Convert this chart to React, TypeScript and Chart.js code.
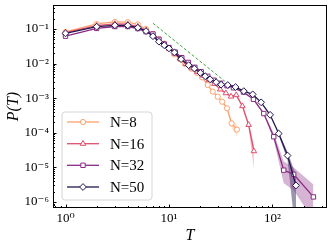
import React, { useEffect, useRef } from 'react';
import { Chart, registerables } from 'chart.js';

Chart.register(...registerables);

// ---- data ----
const SERIES_LABELS = ['N=8', 'N=16', 'N=32', 'N=50'];

const T8 = [1, 2, 3, 4, 5, 6, 7, 8, 9, 10, 11.3, 12.7, 14.3, 16.5, 18.7, 20.9, 23.7, 26.5, 29.6, 32.7, 36.4, 40.3, 45.4];
const P8 = [0.082, 0.14, 0.16, 0.158, 0.135, 0.1, 0.072, 0.052, 0.038, 0.028, 0.0185, 0.0135, 0.0098, 0.0071, 0.0054, 0.004, 0.0024, 0.00155, 0.0011, 0.00079, 0.00051, 0.000187, 0.000124];

const T16 = [1, 2, 3, 4, 5, 6, 7, 8, 9, 10, 11.35, 12.9, 14.6, 16.6, 18.8, 21.4, 24.3, 27.5, 31.3, 35.5, 39.8, 44.7, 51.3, 58.9, 66.2];
const P16 = [0.078, 0.125, 0.14, 0.138, 0.118, 0.09, 0.066, 0.047, 0.035, 0.027, 0.0195, 0.0138, 0.0098, 0.0074, 0.0057, 0.0045, 0.0034, 0.0026, 0.0018, 0.0014, 0.00112, 0.00123, 0.00059, 0.00017, 2.95e-5];

const T32 = [1, 2, 3, 4, 5, 6, 7, 8, 9, 10, 11.5, 13.3, 15.4, 17.8, 20.5, 23.7, 27.3, 31.5, 36.4, 42, 52.5, 65.6, 82.5, 103, 128.6, 160.5, 249];
const P32 = [0.062, 0.104, 0.118, 0.118, 0.103, 0.084, 0.072, 0.05, 0.037, 0.029, 0.0215, 0.0148, 0.0108, 0.0078, 0.0058, 0.0043, 0.0033, 0.0027, 0.0023, 0.002, 0.0015, 0.00093, 0.00036, 7.7e-5, 8.3e-6, 6.3e-6, 1.4e-6];

const T50 = [1, 2, 3, 4, 5, 6, 7, 8, 9, 10, 11.3, 13.1, 15.5, 17.6, 20.1, 22.4, 25, 28.6, 31.9, 37, 44, 52.9, 64.5, 77.8, 95, 115, 140, 169];
const P50 = [0.075, 0.117, 0.128, 0.127, 0.109, 0.087, 0.062, 0.043, 0.034, 0.0275, 0.021, 0.0134, 0.009, 0.0072, 0.0054, 0.0043, 0.0035, 0.0029, 0.00246, 0.0024, 0.0021, 0.0016, 0.00129, 0.00076, 0.00033, 9.5e-5, 2.2e-5, 3.0e-6];

// error bands (tails)
const BAND8_T = [36.4, 40.3, 45.4];
const BAND8_HI = [5.6e-4, 2.4e-4, 1.7e-4];
const BAND8_LO = [4.6e-4, 1.45e-4, 8e-5];
const BAND16_T = [51.3, 58.9, 66.2];
const BAND16_HI = [6.4e-4, 2.0e-4, 4.5e-5];
const BAND16_LO = [5.4e-4, 1.4e-4, 9e-6];
const BAND32_T = [82.5, 103, 128.6, 160.5, 249];
const BAND32_HI = [3.9e-4, 9.5e-5, 1.5e-5, 1.0e-5, 3.2e-6];
const BAND32_LO = [3.3e-4, 6.2e-5, 3.5e-6, 2.2e-6, 3e-7];
const BAND50_T = [115, 140, 169];
const BAND50_HI = [1.05e-4, 2.8e-5, 6e-6];
const BAND50_LO = [8.5e-5, 1.6e-5, 1e-7];

// power-law guide
const GUIDE_T = [7, 34.6];
const GUIDE_P = [0.147, 0.0031];

const X_TICKS = [1, 10, 100];
const Y_TICKS = [1e-6, 1e-5, 1e-4, 1e-3, 1e-2, 1e-1];

const COLORS = ['#fca36f', '#e04d6b', '#8a2a83', '#221650'];
const BAND_COLORS = ['rgba(252,163,111,0.35)', 'rgba(224,77,107,0.35)', 'rgba(138,42,131,0.35)', 'rgba(34,22,80,0.45)'];
const STYLES = ['circle', 'triangle', 'rect', 'rectRot'];
const RADII = [2.6, 3.2, 3.1, 3.4];

const SERIF = "'Liberation Serif', 'DejaVu Serif', serif";

const SUP: Record<string, string> = { '-': '\u207B', '0': '\u2070', '1': '\u00B9', '2': '\u00B2', '3': '\u00B3', '4': '\u2074', '5': '\u2075', '6': '\u2076', '7': '\u2077', '8': '\u2078', '9': '\u2079' };
const pow10Label = (v: number) => {
  const e = String(Math.round(Math.log10(v)));
  return '10' + e.split('').map((c) => SUP[c]).join('');
};

const zip = (xs: number[], ys: number[]) => xs.map((x, i) => ({ x, y: ys[i] }));

function drawMarker(ctx: CanvasRenderingContext2D, style: string, x: number, y: number, r: number) {
  ctx.beginPath();
  if (style === 'circle') {
    ctx.arc(x, y, r, 0, Math.PI * 2);
  } else if (style === 'triangle') {
    let a = 0;
    ctx.moveTo(x + Math.sin(a) * r, y - Math.cos(a) * r);
    a += (2 * Math.PI) / 3;
    ctx.lineTo(x + Math.sin(a) * r, y - Math.cos(a) * r);
    a += (2 * Math.PI) / 3;
    ctx.lineTo(x + Math.sin(a) * r, y - Math.cos(a) * r);
    ctx.closePath();
  } else if (style === 'rect') {
    const s = Math.SQRT1_2 * r;
    ctx.rect(x - s, y - s, 2 * s, 2 * s);
  } else {
    ctx.moveTo(x, y - r);
    ctx.lineTo(x + r, y);
    ctx.lineTo(x, y + r);
    ctx.lineTo(x - r, y);
    ctx.closePath();
  }
  ctx.fillStyle = '#ffffff';
  ctx.fill();
  ctx.stroke();
}

const framePlugin = {
  id: 'frameTicks',
  afterDraw(chart: any) {
    const { ctx, chartArea: a, scales } = chart;
    ctx.save();
    ctx.strokeStyle = '#000';
    ctx.lineWidth = 1;
    ctx.strokeRect(Math.round(a.left) + 0.5, Math.round(a.top) + 0.5, Math.round(a.right - a.left) - 1, Math.round(a.bottom - a.top) - 1);
    const xs = scales.x;
    const ys = scales.y;
    ctx.beginPath();
    for (let d = -1; d <= 3; d++) {
      for (let m = 1; m <= 9; m++) {
        const v = m * Math.pow(10, d);
        if (v < xs.min || v > xs.max) continue;
        const px = Math.round(xs.getPixelForValue(v)) + 0.5;
        const len = m === 1 ? 3.5 : 2;
        ctx.moveTo(px, a.bottom);
        ctx.lineTo(px, a.bottom - len);
      }
    }
    for (let d = -7; d <= 0; d++) {
      for (let m = 1; m <= 9; m++) {
        const v = m * Math.pow(10, d);
        if (v < ys.min || v > ys.max) continue;
        const py = Math.round(ys.getPixelForValue(v)) + 0.5;
        const len = m === 1 ? 3.5 : 2;
        ctx.moveTo(a.left, py);
        ctx.lineTo(a.left + len, py);
      }
    }
    ctx.stroke();

    // legend
    const bx = 62, by = 112, bw = 90, bh = 88, r = 3;
    ctx.beginPath();
    ctx.moveTo(bx + r, by);
    ctx.arcTo(bx + bw, by, bx + bw, by + bh, r);
    ctx.arcTo(bx + bw, by + bh, bx, by + bh, r);
    ctx.arcTo(bx, by + bh, bx, by, r);
    ctx.arcTo(bx, by, bx + bw, by, r);
    ctx.closePath();
    ctx.fillStyle = 'rgba(255,255,255,0.8)';
    ctx.fill();
    ctx.strokeStyle = '#d6d6d6';
    ctx.lineWidth = 1;
    ctx.stroke();
    const rows = [122, 143.7, 165.3, 187];
    SERIES_LABELS.forEach((lab, i) => {
      const y = rows[i];
      ctx.strokeStyle = COLORS[i];
      ctx.lineWidth = 1.3;
      ctx.beginPath();
      ctx.moveTo(67, y);
      ctx.lineTo(99, y);
      ctx.stroke();
      ctx.lineWidth = 1;
      drawMarker(ctx, STYLES[i], 83, y, RADII[i]);
      ctx.fillStyle = '#000';
      ctx.font = `15px ${SERIF}`;
      ctx.textAlign = 'left';
      ctx.textBaseline = 'middle';
      ctx.fillText(lab, 110, y + 1);
    });
    ctx.restore();
  },
};

export default function App() {
  const ref = useRef<HTMLCanvasElement | null>(null);
  useEffect(() => {
    if (!ref.current) return;
    const seriesT = [T8, T16, T32, T50];
    const seriesP = [P8, P16, P32, P50];
    const bands = [
      [BAND8_T, BAND8_HI, BAND8_LO],
      [BAND16_T, BAND16_HI, BAND16_LO],
      [BAND32_T, BAND32_HI, BAND32_LO],
      [BAND50_T, BAND50_HI, BAND50_LO],
    ];
    const datasets: any[] = [];
    bands.forEach((b, i) => {
      datasets.push({
        label: SERIES_LABELS[i] + ' band hi',
        data: zip(b[0], b[1]),
        borderWidth: 0,
        pointRadius: 0,
        backgroundColor: BAND_COLORS[i],
        fill: '+1',
        order: 20,
      });
      datasets.push({
        label: SERIES_LABELS[i] + ' band lo',
        data: zip(b[0], b[2]),
        borderWidth: 0,
        pointRadius: 0,
        fill: false,
        order: 20,
      });
    });
    datasets.push({
      label: 'guide',
      data: zip(GUIDE_T, GUIDE_P),
      borderColor: '#3aa63a',
      borderWidth: 1,
      borderDash: [3, 2],
      pointRadius: 0,
      fill: false,
      order: 10,
    });
    SERIES_LABELS.forEach((lab, i) => {
      datasets.push({
        label: lab,
        data: zip(seriesT[i], seriesP[i]),
        borderColor: COLORS[i],
        borderWidth: 1.3,
        pointStyle: STYLES[i],
        pointRadius: RADII[i],
        pointBorderWidth: 1,
        pointBorderColor: COLORS[i],
        pointBackgroundColor: '#ffffff',
        fill: false,
        order: 3 - i,
      });
    });

    const chart = new Chart(ref.current, {
      type: 'line',
      data: { datasets },
      options: {
        animation: false,
        responsive: false,
        devicePixelRatio: 1,
        layout: { padding: { top: 5, right: 5, left: 0, bottom: 0 } },
        plugins: { legend: { display: false }, tooltip: { enabled: false } },
        scales: {
          x: {
            type: 'logarithmic',
            min: 0.757,
            max: 337,
            grid: { display: false, drawTicks: false },
            border: { display: false },
            ticks: {
              autoSkip: false,
              maxRotation: 0,
              padding: 3,
              color: '#000',
              font: { family: SERIF, size: 13 },
              callback: (v: any) => pow10Label(Number(v)),
            },
            afterBuildTicks: (s: any) => {
              s.ticks = X_TICKS.map((v) => ({ value: v }));
            },
            afterFit: (s: any) => {
              s.height = 40;
              s.paddingLeft = 0;
              s.paddingRight = 0;
            },
            title: {
              display: true,
              text: 'T',
              color: '#000',
              font: { family: SERIF, size: 16, style: 'italic' },
              padding: { top: 0, bottom: 3 },
            },
          },
          y: {
            type: 'logarithmic',
            min: 6.7e-7,
            max: 0.494,
            grid: { display: false, drawTicks: false },
            border: { display: false },
            ticks: {
              autoSkip: false,
              padding: 4,
              color: '#000',
              font: { family: SERIF, size: 13 },
              callback: (v: any) => pow10Label(Number(v)),
            },
            afterBuildTicks: (s: any) => {
              s.ticks = Y_TICKS.map((v) => ({ value: v }));
            },
            afterFit: (s: any) => {
              s.width = 53;
              s.paddingTop = 0;
              s.paddingBottom = 0;
            },
            title: {
              display: true,
              text: 'P(T)',
              color: '#000',
              font: { family: SERIF, size: 16, style: 'italic' },
              padding: { top: 4, bottom: 0 },
            },
          },
        },
      },
      plugins: [framePlugin],
    });
    return () => chart.destroy();
  }, []);

  return (
    <div style={{ position: 'fixed', left: 0, top: 0, width: 332, height: 248, background: '#fff' }}>
      <canvas ref={ref} width={332} height={248} style={{ width: 332, height: 248, display: 'block' }} />
    </div>
  );
}
